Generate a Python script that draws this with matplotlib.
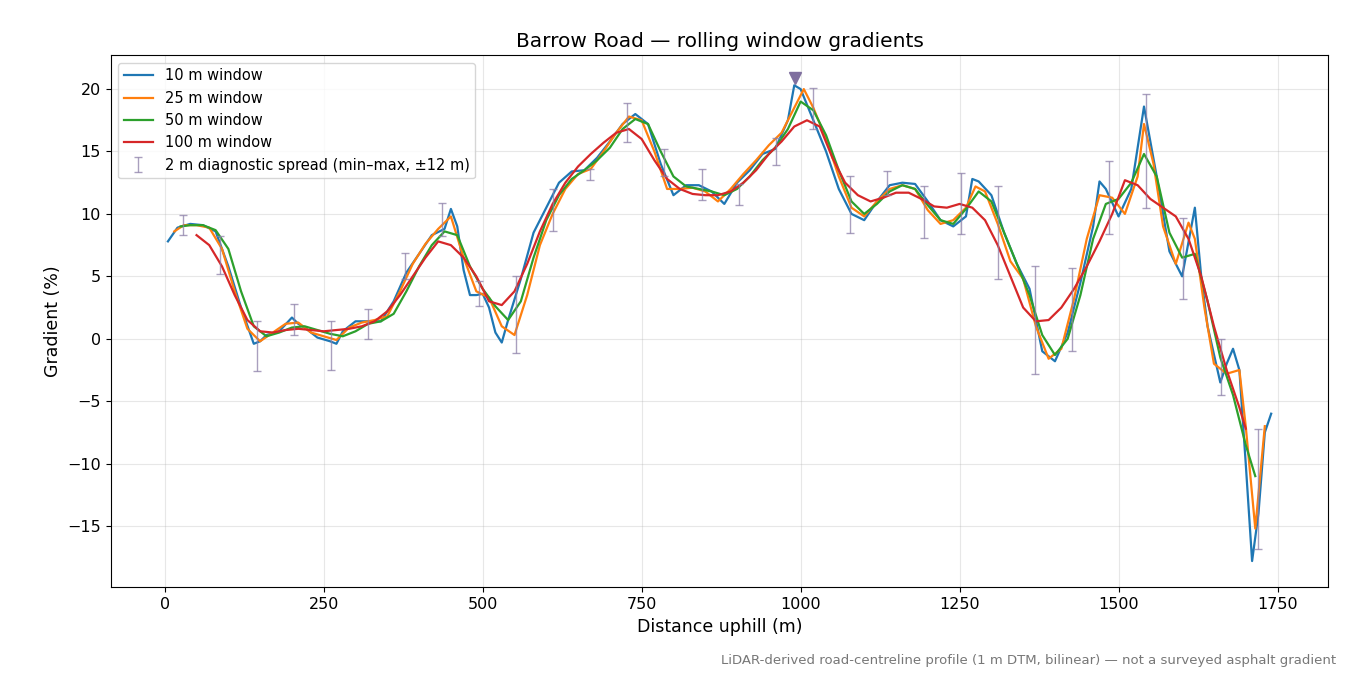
import matplotlib
matplotlib.use("Agg")
import matplotlib.pyplot as plt
import numpy as np

x10 = [5,20,40,60,80,100,120,140,150,160,180,200,210,220,240,260,270,280,300,320,340,360,380,400,420,440,450,460,470,480,490,500,510,520,530,540,560,580,600,620,640,660,680,700,720,740,760,780,800,820,840,860,880,900,920,940,960,980,990,1000,1020,1040,1060,1080,1100,1120,1140,1160,1180,1200,1220,1240,1260,1270,1280,1300,1320,1340,1360,1380,1400,1420,1440,1460,1470,1480,1500,1520,1540,1560,1580,1600,1620,1630,1640,1660,1670,1680,1690,1700,1710,1720,1730,1740]
y10 = [7.8,8.9,9.2,9.1,8.6,5.8,2.5,-0.4,-0.2,0.3,0.6,1.7,1.2,0.9,0.1,-0.2,-0.4,0.6,1.4,1.4,1.4,3.0,5.3,6.8,8.3,8.8,10.4,9.0,5.5,3.5,3.5,3.6,2.5,0.5,-0.3,1.5,4.8,8.5,10.5,12.5,13.4,13.5,14.5,15.8,17.2,18.0,17.2,14.0,11.5,12.3,12.3,11.8,10.8,12.5,13.5,14.8,15.2,17.5,20.3,20.0,17.5,15.0,12.0,10.0,9.5,11.0,12.3,12.5,12.4,11.0,9.5,9.0,9.8,12.8,12.6,11.5,8.5,6.0,4.0,-1.0,-1.8,0.5,4.5,9.0,12.6,12.0,9.8,12.0,18.6,13.0,7.0,5.0,10.5,5.0,1.0,-3.5,-2.0,-0.8,-2.5,-10.0,-17.8,-14.0,-7.5,-6.0]

x25 = [15,30,50,70,90,110,130,150,170,190,210,230,250,270,290,310,330,350,370,390,410,430,450,470,490,510,530,550,570,590,610,630,650,670,690,710,730,750,770,790,810,830,850,870,890,910,930,950,970,990,1005,1020,1040,1060,1080,1100,1120,1140,1160,1180,1200,1220,1240,1260,1275,1290,1310,1330,1350,1370,1390,1410,1430,1450,1470,1490,1510,1530,1540,1555,1570,1590,1610,1620,1635,1650,1670,1690,1700,1715,1730]
y25 = [8.6,9.1,9.1,8.9,7.2,3.8,0.8,-0.2,0.5,1.2,1.3,0.5,0.2,-0.1,0.9,1.3,1.5,1.8,3.8,6.0,7.6,8.8,9.8,6.5,3.8,3.3,1.0,0.3,3.5,7.5,10.0,12.0,13.2,13.6,15.0,16.5,17.8,17.5,15.0,12.0,12.0,12.1,11.8,11.0,12.0,13.2,14.3,15.5,16.5,18.5,20.0,18.5,16.0,13.0,10.5,9.8,11.0,12.0,12.3,12.0,10.3,9.2,9.5,10.5,12.2,11.8,9.2,6.2,4.8,1.0,-1.6,-0.8,3.2,8.0,11.5,11.3,10.0,13.0,17.2,14.0,9.0,6.0,9.3,8.0,2.5,-2.0,-2.8,-2.5,-7.0,-15.2,-7.0]

x50 = [25,40,60,80,100,120,140,160,180,200,220,240,260,280,300,320,340,360,380,400,420,440,460,480,500,520,540,560,580,600,620,640,660,680,700,720,740,760,780,800,820,840,860,880,900,920,940,960,980,1000,1020,1040,1060,1080,1100,1120,1140,1160,1180,1200,1220,1240,1260,1280,1300,1320,1340,1360,1380,1400,1420,1440,1460,1480,1500,1520,1540,1560,1580,1600,1620,1640,1660,1680,1700,1715]
y50 = [9.0,9.1,9.1,8.7,7.2,3.8,1.0,0.2,0.5,0.9,1.0,0.7,0.4,0.2,0.6,1.2,1.4,2.0,3.8,5.8,7.5,8.6,8.3,5.8,4.0,2.6,1.5,3.0,6.5,9.5,11.5,12.8,13.5,14.3,15.3,16.8,17.6,17.2,15.0,13.0,12.2,12.0,11.8,11.5,12.0,13.0,14.3,15.3,16.8,19.0,18.3,16.3,13.5,11.0,10.0,10.8,11.8,12.3,12.0,10.7,9.5,9.2,10.4,11.8,11.0,8.5,6.0,3.5,0.3,-1.3,0.0,3.5,8.0,10.8,11.2,12.5,14.8,13.0,8.5,6.5,6.8,3.0,-1.5,-4.5,-8.5,-11.0]

x100 = [50,70,90,110,130,150,170,190,210,230,250,270,290,310,330,350,370,390,410,430,450,470,490,510,530,550,570,590,610,630,650,670,690,710,730,750,770,790,810,830,850,870,890,910,930,950,970,990,1010,1030,1050,1070,1090,1110,1130,1150,1170,1190,1210,1230,1250,1270,1290,1310,1330,1350,1370,1390,1410,1430,1450,1470,1490,1510,1530,1550,1570,1590,1610,1630,1650,1670,1690,1700]
y100 = [8.3,7.5,5.8,3.5,1.5,0.6,0.5,0.7,0.8,0.7,0.6,0.7,0.8,1.0,1.4,2.2,3.5,5.0,6.5,7.8,7.5,6.5,5.0,3.0,2.7,3.8,6.0,8.6,10.8,12.5,13.8,14.8,15.7,16.5,16.8,16.0,14.3,12.8,12.0,11.6,11.5,11.5,11.8,12.5,13.5,14.8,15.8,17.0,17.5,17.0,14.5,12.5,11.5,11.0,11.3,11.7,11.7,11.2,10.6,10.5,10.8,10.5,9.5,7.5,5.0,2.5,1.4,1.5,2.5,4.0,5.8,7.8,10.0,12.7,12.3,11.2,10.5,9.8,8.0,5.0,1.0,-2.5,-5.5,-7.2]

err_x = [28 + 58.3 * i for i in range(30)]
err_lo = [8.3,5.2,-2.6,0.3,-2.5,0.0,4.8,8.2,2.6,-1.1,8.6,12.7,15.8,13.0,11.1,10.7,13.9,16.8,8.5,11.5,8.1,8.4,4.8,-2.8,-1.0,8.4,10.5,3.2,-4.5,-16.8]
err_hi = [9.9,8.2,1.4,2.8,1.4,2.4,6.9,10.9,4.6,5.0,12.0,13.6,18.9,15.2,13.6,12.4,16.1,20.1,13.0,13.4,12.2,13.3,12.2,5.8,5.7,14.2,19.6,9.7,0.0,-7.2]
peak_x, peak_y = 991, 20.9

fig, ax = plt.subplots(figsize=(13.5, 6.75), dpi=100)
ax.plot(x10, y10, color="#1f77b4", lw=1.6, label="10 m window")
ax.plot(x25, y25, color="#ff7f0e", lw=1.6, label="25 m window")
ax.plot(x50, y50, color="#2ca02c", lw=1.6, label="50 m window")
ax.plot(x100, y100, color="#d62728", lw=1.6, label="100 m window")
lo = np.array(err_lo); hi = np.array(err_hi)
mid = (lo + hi) / 2
ax.errorbar(err_x, mid, yerr=[mid - lo, hi - mid], fmt="none", ecolor="#8c7fa8",
            alpha=0.75, capsize=3, lw=1, label="2 m diagnostic spread (min\u2013max, \u00b112 m)")
ax.plot([peak_x], [peak_y], marker="v", color="#7f6f9f", ms=8, ls="none")
ax.set_xlim(-85, 1830)
ax.set_ylim(-19.9, 22.7)
ax.set_xticks([0, 250, 500, 750, 1000, 1250, 1500, 1750])
ax.set_yticks([-15, -10, -5, 0, 5, 10, 15, 20])
ax.set_yticklabels(["\u221215", "\u221210", "\u22125", "0", "5", "10", "15", "20"])
ax.tick_params(labelsize=11.5)
ax.grid(True, alpha=0.3)
ax.set_xlabel("Distance uphill (m)", fontsize=12.5)
ax.set_ylabel("Gradient (%)", fontsize=12.5)
ax.set_title("Barrow Road \u2014 rolling window gradients", fontsize=14.5)
ax.legend(loc="upper left", fontsize=10.5)
fig.subplots_adjust(left=0.082, right=0.984, top=0.918, bottom=0.13)
fig.text(0.99, 0.012, "LiDAR-derived road-centreline profile (1 m DTM, bilinear) \u2014 not a surveyed asphalt gradient",
         ha="right", va="bottom", fontsize=9.5, color="#777777")
fig.savefig("out.png", dpi=100)
